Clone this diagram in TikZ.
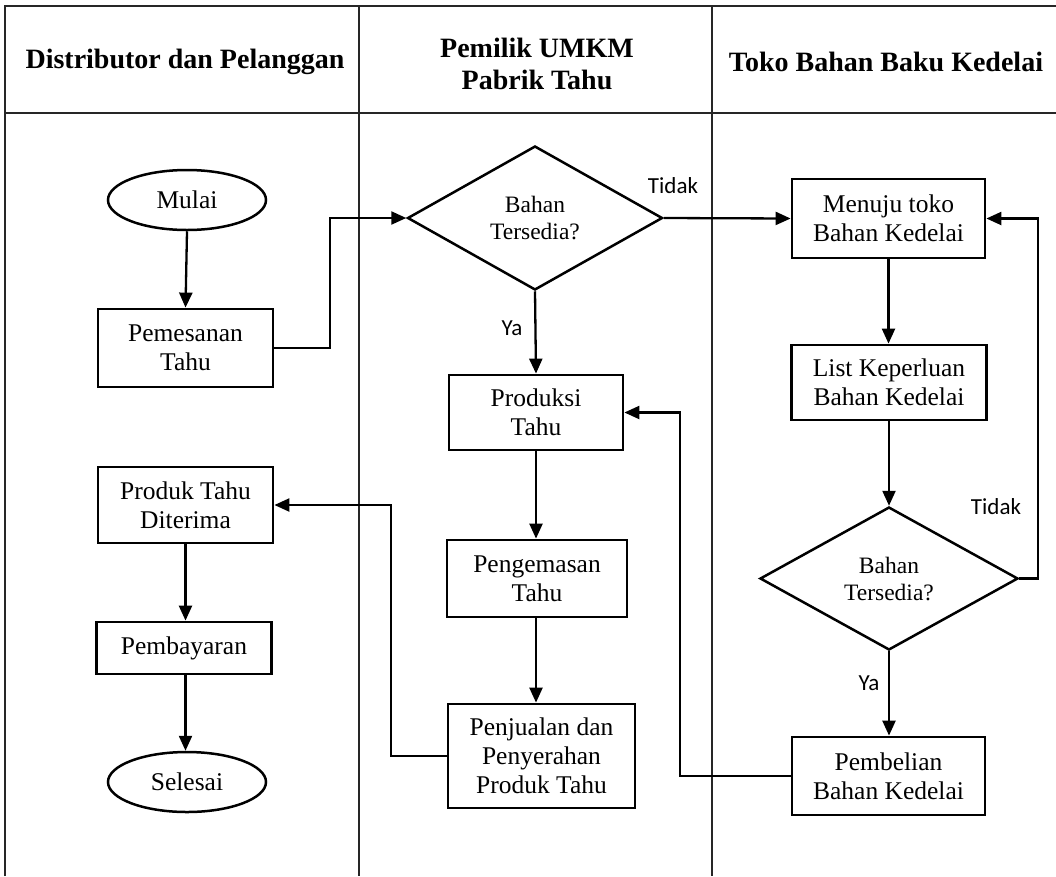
\documentclass[tikz,border=0pt]{standalone}
\usepackage{fontspec}
\setmainfont{Liberation Serif}
\newfontfamily\lblfont{Carlito}
\usetikzlibrary{shapes.geometric,arrows.meta}
\begin{document}
\begin{tikzpicture}[x=1pt,y=-1pt,
  grid/.style={line width=1.2pt, draw=black!85},
  box/.style={draw, line width=2.8pt, rectangle, align=center, inner sep=0pt,
    font=\fontsize{25.5}{29}\selectfont},
  term/.style={draw, line width=2.5pt, ellipse, inner sep=0pt,
    font=\fontsize{25.5}{29}\selectfont},
  dec/.style={draw, line width=2.5pt, diamond, aspect=1.77, inner sep=0pt, align=center,
    font=\fontsize{23.5}{27}\selectfont},
  head/.style={align=center, font=\bfseries\fontsize{28}{32}\selectfont},
  lbl/.style={font=\lblfont\fontsize{23}{26}\selectfont},
  flow/.style={line width=2.3pt, -{Triangle[length=15pt,width=13pt]}},
  line/.style={line width=2.3pt}]
\useasboundingbox (0,0) rectangle (1056,876);
\fill[white] (0,0) rectangle (1056,876);
% table grid
\draw[grid] (5,876) -- (5,6) -- (1056,6);
\draw[grid] (5,113) -- (1056,113);
\draw[grid] (359,6) -- (359,876);
\draw[grid] (712,6) -- (712,876);
% headers
\node[head] (h1) at (185,62) {Distributor dan Pelanggan};
\node[head] (h2) at (537,64) {Pemilik UMKM\\Pabrik Tahu};
\node[head] (h3) at (886,62) {Toko Bahan Baku Kedelai};
% lane 1
\node[term, minimum width=158pt, minimum height=60pt] (mulai) at (187,200) {Mulai};
\node[box, minimum width=175pt, minimum height=78pt] (pesan) at (185.5,348) {Pemesanan\\Tahu};
\node[box, minimum width=175pt, minimum height=76pt] (terima) at (185.5,505) {Produk Tahu\\Diterima};
\node[box, minimum width=175pt, minimum height=52pt] (bayar) at (184,648) {Pembayaran};
\node[term, minimum width=158pt, minimum height=60pt] (selesai) at (187,782) {Selesai};
% lane 2
\node[dec, minimum width=255pt, minimum height=144pt] (d1) at (535,218) {Bahan\\Tersedia?};
\node[box, minimum width=174pt, minimum height=75pt] (prod) at (536,412.5) {Produksi\\Tahu};
\node[box, minimum width=180pt, minimum height=77pt] (kemas) at (537,578.5) {Pengemasan\\Tahu};
\node[box, minimum width=187pt, minimum height=104pt] (jual) at (541.5,756) {Penjualan dan\\Penyerahan\\Produk Tahu};
% lane 3
\node[box, minimum width=193pt, minimum height=79pt] (menuju) at (888.5,218.5) {Menuju toko\\Bahan Kedelai};
\node[box, minimum width=195pt, minimum height=75pt] (list) at (889,382.5) {List Keperluan\\Bahan Kedelai};
\node[dec, minimum width=258pt, minimum height=143pt] (d2) at (889,578.5) {Bahan\\Tersedia?};
\node[box, minimum width=193pt, minimum height=78pt] (beli) at (888.5,776) {Pembelian\\Bahan Kedelai};
% labels
\node[lbl] (t1) at (673,186) {Tidak};
\node[lbl] (y1) at (512,328) {Ya};
\node[lbl] (t2) at (996,507) {Tidak};
\node[lbl] (y2) at (869,683) {Ya};
% connectors
\draw[flow] (mulai.south) -- (pesan.north);
\draw[flow] (pesan.east) -- (330,348) |- (d1.west);
\draw[flow] (d1.east) -- (menuju.west);
\draw[flow] (d1.south) -- (prod.north);
\draw[flow] (menuju.south) -- (list.north -| menuju.south);
\draw[flow] (list.south -| d2.north) -- (d2.north);
\draw[flow] (d2.east) -- (1038,578.5) |- (menuju.east);
\draw[flow] (d2.south) -- (beli.north -| d2.south);
\draw[flow] (beli.west) -- (680,776) |- (prod.east);
\draw[flow] (prod.south) -- (kemas.north -| prod.south);
\draw[flow] (kemas.south -| prod.south) -- (jual.north -| prod.south);
\draw[flow] (jual.west) -- (391,756) |- (terima.east);
\draw[flow] (terima.south) -- (bayar.north -| terima.south);
\draw[flow] (bayar.south -| terima.south) -- (selesai.north -| terima.south);
\end{tikzpicture}
\end{document}
